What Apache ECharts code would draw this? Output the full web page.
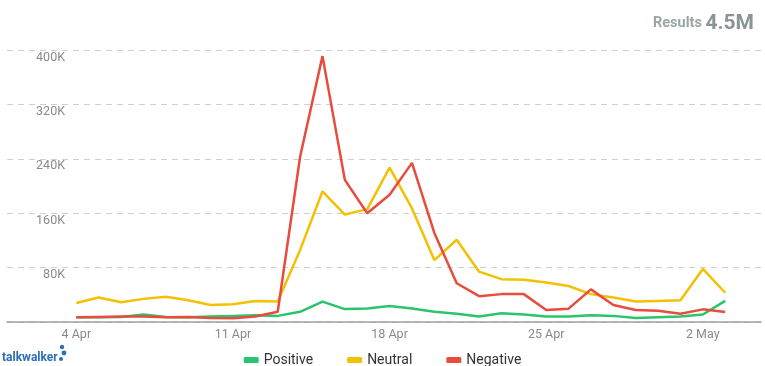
<!DOCTYPE html>
<html>
<head>
<meta charset="utf-8">
<script src="https://cdn.jsdelivr.net/npm/echarts@6/dist/echarts.min.js"></script>
<style>
  html, body { margin: 0; padding: 0; background: #fff; }
  #chart { width: 765px; height: 366px; }
</style>
</head>
<body>
<div id="chart"></div>
<script>
// daily values, 4 Apr .. 3 May
var days = ['4 Apr','5 Apr','6 Apr','7 Apr','8 Apr','9 Apr','10 Apr','11 Apr','12 Apr','13 Apr',
  '14 Apr','15 Apr','16 Apr','17 Apr','18 Apr','19 Apr','20 Apr','21 Apr','22 Apr','23 Apr',
  '24 Apr','25 Apr','26 Apr','27 Apr','28 Apr','29 Apr','30 Apr','1 May','2 May','3 May'];
var positive = [7000,7000,7500,11000,7500,7000,8000,9000,10000,9000,15000,30000,19000,20000,23500,
  20000,15000,12000,8000,13000,11000,8000,8000,10000,9000,6000,7000,8000,11000,31000];
var neutral = [28000,36000,29000,34000,37000,32000,25000,26000,31000,30000,106000,192000,158000,166000,227000,
  167000,91000,121000,74000,63000,62000,58000,53000,41000,36000,30000,31000,32000,78000,43000];
var negative = [7000,7500,8000,8000,7000,7500,6000,5500,8000,15000,243000,391000,209000,160000,187000,
  234000,131000,57000,38000,41000,41000,17600,19600,48000,25000,17600,16700,12000,18600,14700];
var tickDays = [0, 7, 14, 21, 28];
var yTicks = [80000, 160000, 240000, 320000, 400000];

function pairs(arr) {
  return arr.map(function (v, i) { return [i, v]; });
}

var chart = echarts.init(document.getElementById('chart'));
var option = {
  animation: false,
  color: ['#2ac46e', '#f2c100', '#e74c3c'],
  title: {
    text: '{a|Results }{b|4.5M}',
    right: 6,
    top: 8,
    textStyle: {
      rich: {
        a: { fontFamily: 'Roboto', fontSize: 14.5, color: '#9aa6a6' },
        b: { fontFamily: 'Roboto', fontSize: 21, fontWeight: 'bold', color: '#879595' }
      }
    }
  },
  legend: {
    top: 348,
    left: 'center',
    itemWidth: 15,
    itemHeight: 6,
    itemGap: 34,
    icon: 'roundRect',
    textStyle: { fontFamily: 'Roboto', fontSize: 14, color: '#333' },
    data: ['Positive', 'Neutral', 'Negative']
  },
  grid: { left: 7, right: 4, top: 50, bottom: 44 },
  xAxis: {
    type: 'value',
    min: -3.1,
    max: 30.6,
    splitLine: { show: false },
    axisTick: { show: false },
    axisLine: { show: true, lineStyle: { color: '#9aa3a3', width: 1.5 } },
    axisLabel: {
      customValues: tickDays,
      margin: 6,
      fontFamily: 'Roboto',
      fontSize: 12.5,
      color: '#8a8a8a',
      formatter: function (v) { return days[Math.round(v)] || ''; }
    }
  },
  yAxis: {
    type: 'value',
    min: 0,
    max: 400000,
    interval: 80000,
    axisLine: { show: false },
    axisTick: { show: false },
    splitLine: { lineStyle: { color: '#cfcfcf', type: [6, 5], width: 1 } },
    axisLabel: {
      inside: true,
      margin: 58,
      align: 'right',
      verticalAlign: 'top',
      padding: [1, 0, 0, 0],
      fontFamily: 'Roboto',
      fontSize: 12.5,
      color: '#8a8a8a',
      customValues: yTicks,
      formatter: function (v) { return (v / 1000) + 'K'; }
    }
  },
  series: [
    { name: 'Positive', type: 'line', data: pairs(positive), showSymbol: false, lineStyle: { width: 2.5 } },
    { name: 'Neutral', type: 'line', data: pairs(neutral), showSymbol: false, lineStyle: { width: 2.5 } },
    { name: 'Negative', type: 'line', data: pairs(negative), showSymbol: false, lineStyle: { width: 2.5 } }
  ],
  graphic: [
    {
      type: 'text', left: 2, top: 352,
      style: { text: 'talkwalker', fontFamily: 'Roboto', fontSize: 12, fontWeight: 'bold', fill: '#2a6fb8' }
    },
    { type: 'circle', shape: { cx: 62, cy: 347, r: 2.2 }, style: { fill: '#2a6fb8' } },
    { type: 'circle', shape: { cx: 64, cy: 353, r: 2.4 }, style: { fill: '#2a6fb8' } },
    { type: 'circle', shape: { cx: 61, cy: 359, r: 2 }, style: { fill: '#2a6fb8' } }
  ]
};
chart.setOption(option);
</script>
</body>
</html>
